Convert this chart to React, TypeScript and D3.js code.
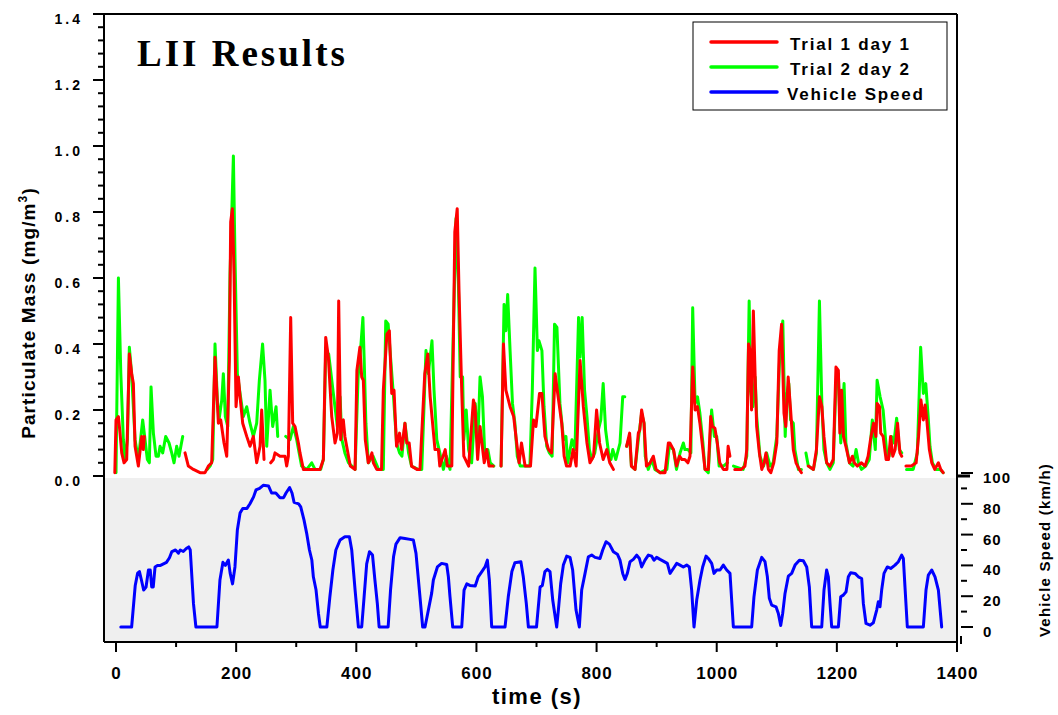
import React from 'react';
import * as d3 from 'd3';

type Pt = [number, number | null];

// Particulate mass ticks (mg/m3)
const pmMajorTicks = [0, 0.2, 0.4, 0.6, 0.8, 1.0, 1.2, 1.4];
const timeMajorTicks = [0, 200, 400, 600, 800, 1000, 1200, 1400];
const timeMinorTicks = [100, 300, 500, 700, 900, 1100, 1300];
const speedMajorTicks = [0, 20, 40, 60, 80, 100];
const speedMinorTicks = [10, 30, 50, 70, 90];

const legendLabels = ['Trial 1 day 1', 'Trial 2 day 2', 'Vehicle Speed'];
const seriesColors = ['#ff0000', '#00ff00', '#0000ff'];

// Trial 1 day 1 (red) : [time s, mass mg/m3]
const trial1: Pt[] = [
  [-2, 0.01], [0, 0.17], [4, 0.18], [6.7, 0.13], [9.5, 0.07], [13.4, 0.04], [17.8, 0.05], [22.2, 0.37], [26.1, 0.31],
  [28.9, 0.28], [31.7, 0.09], [37.2, 0.03], [42.8, 0.12], [45.5, 0.08], [47.2, 0.12], [48, null],
  [114.9, 0.07], [120.4, 0.03], [128.8, 0.02], [139.9, 0.01], [148.2, 0.01], [153.7, 0.03], [159.3, 0.04],
  [164.8, 0.36], [170.4, 0.16], [174.3, 0.17], [179.8, 0.10], [184.3, 0.06], [188.7, 0.35], [190.9, 0.77],
  [193.7, 0.81], [196.5, 0.61], [199.8, 0.21], [203.7, 0.30], [206.5, 0.24], [210.9, 0.16], [217.6, 0.12],
  [223.1, 0.09], [228.6, 0.12], [234.2, 0.04], [239.8, 0.09], [242.5, 0.20], [246.4, 0.05], [250, null],
  [257.5, 0.04], [262, 0.05], [264.7, 0.07], [273, 0.06], [281.4, 0.06], [284.1, 0.03], [286.9, 0.06],
  [290.8, 0.48], [294.1, 0.16], [298, 0.15], [303.6, 0.10], [306.3, 0.07], [311.9, 0.02], [323, 0.02],
  [339.6, 0.02], [345.2, 0.05], [349.1, 0.42], [353.5, 0.36], [359.1, 0.18], [364.6, 0.10], [368.5, 0.13],
  [370.7, 0.53], [374, 0.11], [376, 0.16], [378.4, 0.17], [381, 0.12], [390, 0.03], [398, 0.02],
  [401, 0.32], [406, 0.39], [409, 0.30], [411.7, 0.29], [415, 0.11], [420, 0.04], [426, 0.07], [428.4, 0.04],
  [434, 0.02], [442, 0.02], [445, 0.26], [451, 0.43], [455, 0.44], [459, 0.25], [462.8, 0.26], [467, 0.09],
  [472, 0.13], [475.5, 0.08], [481, 0.16], [484, 0.10], [488, 0.10], [492, 0.03], [501, 0.02], [506, 0.02],
  [514, 0.31], [519, 0.37], [523, 0.24], [531, 0.08], [536.6, 0.08], [539, 0.03], [548, 0.08], [551.6, 0.03],
  [559, 0.03], [564, 0.74], [568, 0.81], [571, 0.56], [575.5, 0.26], [579, 0.06], [587, 0.03], [595, 0.23],
  [597.6, 0.21], [602, 0.05], [606, 0.15], [610.4, 0.08], [613, 0.04], [617, 0.08], [621, 0.03], [628, 0.03], [632, null],
  [641, 0.03], [645, 0.40], [649, 0.26], [656, 0.21], [662, 0.18], [667, 0.10], [671, 0.04], [675, 0.10],
  [681, 0.03], [686, 0.03], [690, 0.03], [695, 0.17], [699, 0.15], [705, 0.25], [709, 0.25], [714, 0.12],
  [720, 0.08], [725, 0.07], [731, 0.31], [736, 0.24], [742, 0.16], [746, 0.06], [750, 0.03], [756, 0.03],
  [761, 0.08], [766, 0.03], [772.5, 0.35], [778, 0.21], [784, 0.10], [789, 0.04], [795, 0.06], [800, 0.20],
  [805, 0.10], [811, 0.05], [817, 0.08], [822, 0.04], [828, 0.02], [832, null],
  [850, 0.09], [855, 0.13], [858, 0.03], [864, 0.02], [869.5, 0.13], [872, 0.14], [875, 0.20], [879, 0.16],
  [883, 0.03], [889, 0.04], [894.5, 0.06], [899, 0.02], [906, 0.01], [914, 0.01], [919.5, 0.10], [922, 0.10],
  [928, 0.08], [933, 0.03], [938, 0.06], [942, 0.05], [947, 0.05], [952, 0.04], [955.5, 0.06], [960, 0.33],
  [964, 0.20], [968, 0.21], [972, 0.16], [977, 0.08], [980.5, 0.02], [986, 0.02], [990, 0.18], [993, 0.15],
  [997, 0.145], [1001, 0.10], [1005, 0.04], [1011, 0.02], [1017, 0.02], [1019, 0.09], [1022, 0.06], [1025, null],
  [1030, 0.02], [1041, 0.02], [1047, 0.03], [1050, 0.08], [1053, 0.40], [1055.5, 0.38], [1058, 0.20],
  [1061, 0.50], [1064, 0.30], [1066.5, 0.15], [1071, 0.07], [1075, 0.02], [1079, 0.04], [1082, 0.07],
  [1086, 0.02], [1090, 0.01], [1095, 0.04], [1100, 0.10], [1104, 0.38], [1108, 0.46], [1112, 0.19],
  [1115, 0.15], [1119, 0.30], [1123, 0.20], [1127.5, 0.08], [1132, 0.04], [1137.5, 0.02], [1141, 0.01], [1145, null],
  [1152.5, 0.03], [1161, 0.02], [1166, 0.08], [1171, 0.24], [1175, 0.21], [1178.5, 0.12], [1183, 0.04],
  [1188.5, 0.03], [1194, 0.05], [1198.5, 0.33], [1202.5, 0.32], [1205, 0.13], [1208, 0.26], [1211, 0.12],
  [1215, 0.09], [1221, 0.04], [1226, 0.06], [1229, 0.04], [1234, 0.03], [1241, 0.04], [1247, 0.03],
  [1252, 0.06], [1256, 0.11], [1261, 0.16], [1265, 0.12], [1267, 0.22], [1271, 0.21], [1273, 0.13],
  [1277, 0.12], [1282, 0.05], [1286, 0.05], [1289.5, 0.12], [1293, 0.06], [1297, 0.08], [1301, 0.16],
  [1305, 0.07], [1308, 0.06], [1311, null],
  [1315, 0.03], [1324, 0.03], [1332, 0.04], [1336, 0.12], [1340, 0.23], [1344, 0.17], [1347, 0.215],
  [1350, 0.165], [1354, 0.08], [1358, 0.04], [1363, 0.02], [1369, 0.04], [1373, 0.02], [1377, 0.01],
];

// Trial 2 day 2 (green) : [time s, mass mg/m3]
const trial2: Pt[] = [
  [0, 0.01], [4, 0.60], [8, 0.31], [12.2, 0.11], [15, 0.05], [19, 0.11], [22.2, 0.39], [26, 0.31], [31.7, 0.11],
  [37.2, 0.05], [44.4, 0.17], [48.3, 0.11], [52.2, 0.05], [55.5, 0.04], [58.3, 0.27], [62.2, 0.13], [66.6, 0.06],
  [70.5, 0.06], [73.3, 0.09], [77.7, 0.07], [82.7, 0.12], [88.3, 0.10], [92.7, 0.07], [96.6, 0.04], [101, 0.09],
  [104.9, 0.06], [111, 0.12], [113, null],
  [152, 0.02], [156.5, 0.03], [161, 0.05], [164.8, 0.40], [168.7, 0.23], [171.5, 0.17], [176, 0.23],
  [178.7, 0.31], [182, 0.18], [186, 0.15], [189.8, 0.61], [195.4, 0.97], [198.1, 0.66], [202, 0.31],
  [206.5, 0.25], [212, 0.18], [217.6, 0.21], [223, 0.16], [228.6, 0.12], [234.2, 0.16], [238.6, 0.29],
  [244, 0.40], [248, 0.29], [250.9, 0.09], [256.4, 0.26], [260.8, 0.15], [266.4, 0.21], [269.2, 0.12], [272, null],
  [282.5, 0.12], [289.7, 0.11], [295.2, 0.15], [300.8, 0.11], [309, 0.03], [317.4, 0.02], [325.8, 0.04],
  [331.3, 0.02], [340.7, 0.02], [345.2, 0.05], [349, 0.37], [354, 0.37], [361.8, 0.25], [368.5, 0.15],
  [373, 0.24], [376, 0.11], [381, 0.07], [387, 0.04], [398, 0.02], [403, 0.30], [407, 0.38], [411, 0.48],
  [413, 0.36], [416, 0.16], [420, 0.04], [428, 0.06], [437, 0.02], [445, 0.02], [449, 0.47], [453, 0.46],
  [457, 0.36], [462, 0.24], [467, 0.10], [472, 0.07], [476, 0.06], [481, 0.16], [487, 0.07], [492, 0.03],
  [503, 0.02], [509, 0.02], [516, 0.38], [520, 0.31], [526, 0.41], [529.4, 0.26], [534, 0.11], [539, 0.07],
  [545, 0.02], [550, 0.06], [556, 0.02], [566, 0.78], [570, 0.58], [573, 0.30], [577, 0.30], [579, 0.11],
  [583, 0.20], [587, 0.08], [592, 0.04], [598, 0.22], [602, 0.09], [606, 0.30], [610, 0.24], [614, 0.06],
  [619, 0.08], [623, 0.04], [629, 0.03], [632, null],
  [641, 0.03], [646, 0.52], [649, 0.44], [652, 0.55], [656, 0.38], [660, 0.22], [664, 0.16], [668, 0.06],
  [673, 0.03], [678, 0.03], [689, 0.03], [693, 0.26], [697.5, 0.63], [701.5, 0.38], [704, 0.41], [709, 0.38],
  [712.5, 0.21], [717, 0.09], [721.5, 0.07], [726, 0.06], [730, 0.46], [734, 0.45], [739, 0.22], [745, 0.11],
  [749, 0.12], [752, 0.04], [759, 0.11], [764, 0.08], [770, 0.48], [772.5, 0.36], [776, 0.48], [780, 0.26],
  [784, 0.18], [788, 0.08], [792, 0.05], [797, 0.07], [803, 0.14], [807, 0.17], [811, 0.28], [815, 0.14],
  [820, 0.07], [824, 0.05], [827, 0.08], [832, 0.05], [839, 0.10], [843.5, 0.24], [847, 0.24], [848, null],
  [850, 0.09], [855, 0.12], [858, 0.03], [864, 0.02], [869.5, 0.11], [875, 0.19], [879, 0.16], [881, 0.06],
  [886, 0.02], [892, 0.05], [897, 0.02], [906, 0.01], [917, 0.02], [921, 0.09], [928, 0.08], [933, 0.02],
  [939, 0.07], [944.5, 0.10], [947, 0.08], [952, 0.08], [957, 0.07], [960, 0.51], [964, 0.22], [968, 0.24],
  [972, 0.19], [977, 0.10], [980.5, 0.02], [986, 0.01], [991.5, 0.20], [996, 0.12], [1000, 0.12], [1004, 0.03],
  [1011, 0.03], [1018, 0.04], [1021, null],
  [1028, 0.03], [1044, 0.02], [1050, 0.06], [1054, 0.53], [1056.5, 0.26], [1060, 0.21], [1064, 0.30],
  [1066.5, 0.18], [1072, 0.06], [1078, 0.03], [1083, 0.07], [1089, 0.03], [1094, 0.04], [1100, 0.12],
  [1105, 0.37], [1110, 0.47], [1114, 0.12], [1116.5, 0.24], [1120, 0.28], [1123, 0.17], [1127.5, 0.16],
  [1130, 0.08], [1136, 0.02], [1141, 0.02], [1144, null],
  [1148.5, 0.07], [1152.5, 0.03], [1161, 0.02], [1166, 0.07], [1171, 0.53], [1175, 0.22], [1178.5, 0.08],
  [1183, 0.04], [1188.5, 0.02], [1194, 0.04], [1198.5, 0.28], [1202.5, 0.31], [1206.5, 0.10], [1212, 0.28],
  [1215, 0.10], [1221, 0.04], [1227, 0.03], [1232, 0.08], [1236, 0.04], [1241, 0.02], [1248, 0.03],
  [1254, 0.05], [1259, 0.17], [1264, 0.08], [1267, 0.29], [1272, 0.24], [1277, 0.20], [1283, 0.07],
  [1287, 0.06], [1291, 0.12], [1295, 0.10], [1299.5, 0.175], [1304, 0.08], [1308, 0.07], [1311, null],
  [1316, 0.02], [1327, 0.02], [1334, 0.07], [1339.5, 0.39], [1344, 0.25], [1348, 0.28], [1352, 0.18],
  [1355, 0.09], [1359, 0.04], [1365, 0.02], [1372, 0.02], [1377, 0.01],
];

// Vehicle speed (blue) : [time s, speed km/h]
const vehicleSpeed: Pt[] = [
  [8, 0], [26, 0], [32, 27], [36, 35], [39, 36], [42, 31], [46, 24], [50, 26], [54, 37], [57, 37], [59.4, 26],
  [62, 26], [65, 39], [69, 40], [74, 40], [79, 41], [84, 42], [89, 45], [93, 49], [99, 50], [104, 48], [107, 50],
  [112, 49], [117, 51], [121, 52], [123.6, 50], [129, 15], [133, 0], [168, 0], [173, 30.5], [178, 42], [182, 40],
  [187, 43.5], [190, 35], [194, 28], [198, 39], [202, 63], [206.5, 74], [211, 77], [218, 77], [223, 80],
  [229, 84.5], [233, 89], [239, 90], [245, 92], [254, 91.5], [259, 87], [266, 87], [273, 84], [279, 84],
  [283, 87], [289, 90.6], [293, 87], [296.4, 81], [304, 80], [307.5, 78], [313, 69.4], [317.4, 60.8], [322, 50],
  [326, 43.5], [328.5, 32.6], [333, 24], [337, 8.8], [340, 0], [351, 0], [356, 19.6], [361, 37], [366, 50],
  [373, 56.5], [381, 58.6], [388.5, 58.6], [392.4, 50], [398, 24], [403.5, 0], [409, 0], [413, 19.6],
  [417.3, 41], [422, 48.9], [427, 46.7], [431, 30.5], [435, 15.3], [438, 0], [453, 0], [457, 24], [462, 45.6],
  [466, 53.8], [473, 58], [481, 57.5], [489.5, 56.9], [495, 56.5], [499.4, 47.8], [505, 24], [510.5, 0],
  [514.4, 0], [520, 11], [525.5, 22], [528.3, 30.5], [535, 39], [542, 41.3], [550.5, 40.6], [553.3, 32.6],
  [556, 19.6], [560.5, 0], [575.5, 0], [579.4, 24], [584, 28], [589, 27], [598, 26.6], [603, 32.6], [609, 36],
  [614.3, 39], [618.2, 43.4], [621.5, 30.5], [625.4, 0], [647.6, 0], [653, 19.6], [659, 36], [664, 41.7],
  [674, 42.4], [678, 32.6], [683, 15.3], [686.5, 0], [700, 0], [706, 26], [709.7, 27], [714, 36], [718, 37.4],
  [722.5, 36], [727, 17.5], [733.6, 0], [736.4, 11], [740.3, 28.3], [744.7, 40.2], [750.2, 46], [755.8, 45.2],
  [760.2, 37], [765.8, 11], [771.3, 0], [775.2, 24], [780.8, 34.8], [786.3, 45.6], [791.9, 46.7], [797.4, 45.2],
  [805.7, 44.5], [810.2, 50], [815.7, 55.4], [821.3, 53.8], [828, 48.9], [834.6, 47.3], [839, 43.4],
  [843.5, 34.8], [847.3, 30.9], [851.2, 34.8], [855.7, 42.4], [861.2, 43.9], [866.8, 46.7], [871.2, 44.5],
  [875, 39], [880.6, 43.4], [886.2, 46.7], [891.7, 46], [895.6, 43.4], [900, 45.2], [905.6, 43.9], [911, 42.8],
  [917.8, 41.3], [922.3, 34.8], [927.8, 38], [933.4, 41.3], [938.9, 40.2], [944.4, 39], [950, 40.2],
  [954.4, 39], [958.3, 24], [962.2, 0], [966.7, 17.5], [972.2, 30.5], [976.6, 39], [982.2, 46], [986, 44.5],
  [991.6, 41.3], [995.5, 34.8], [999.9, 37], [1005.5, 37], [1011, 40.2], [1016.6, 37], [1022.1, 34.8],
  [1027.7, 0], [1058.2, 0], [1062, 19.6], [1067.7, 37], [1074.9, 45.2], [1080.4, 42.4], [1084.3, 32.6],
  [1087.6, 18.6], [1091.5, 14.2], [1098.7, 13.1], [1102.6, 8.8], [1106.5, 1], [1109.8, 8.8], [1113.7, 21.8],
  [1119.2, 33], [1124.8, 34.8], [1130.4, 40.2], [1137.6, 43.4], [1144.2, 43], [1149.8, 39], [1154.2, 26],
  [1158.1, 0], [1174.8, 0], [1178.6, 24], [1183, 37], [1185.8, 32.6], [1188.6, 15.3], [1191.4, 0], [1202.5, 0],
  [1206.4, 19.6], [1210.8, 20.7], [1215.3, 22.9], [1219.1, 32.6], [1223, 35.2], [1230.2, 34.8], [1235.8, 32.6],
  [1241.3, 31.5], [1244.1, 15.3], [1248.5, 2.3], [1255.2, 1.2], [1260.7, 2.7], [1266.3, 11], [1269, 16.4],
  [1271.8, 13.1], [1274.6, 24], [1278.5, 34.8], [1284, 39], [1289.6, 38], [1296.8, 40.2], [1302.4, 42.4],
  [1307.9, 46.7], [1310.7, 44.5], [1313.4, 26], [1317.3, 0], [1344, 0], [1348.4, 24], [1352.3, 33.7],
  [1357.9, 37], [1363.4, 32.6], [1369, 24], [1374.5, 0],
];

const FONT = '"Liberation Sans", Arial, sans-serif';

export default function App() {
  const left = 104, right = 957, top = 14, bottom = 642;
  const x = d3.scaleLinear().domain([-20, 1400]).range([left, right]);
  const yPM = d3.scaleLinear().domain([0, 1.4]).range([476, top]);
  const ySp = d3.scaleLinear().domain([0, 100]).range([627, 473]);

  const pmLine = d3.line<Pt>()
    .defined((d) => d[1] !== null)
    .x((d) => x(d[0]))
    .y((d) => yPM(d[1] as number));
  const spLine = d3.line<Pt>()
    .defined((d) => d[1] !== null)
    .x((d) => x(d[0]))
    .y((d) => ySp(d[1] as number));

  const pmMinor = d3.range(0, 71).map((i) => i * 0.02).filter((v, i) => i % 2 === 0 && i % 10 !== 0);

  return (
    <div style={{ position: 'absolute', left: 0, top: 0 }}>
      <svg width={1058} height={715} style={{ display: 'block', background: '#fff' }}>
        <defs>
          <clipPath id="plotClip">
            <rect x={left + 1} y={top + 1} width={right - left - 2} height={bottom - top - 2} />
          </clipPath>
        </defs>
        {/* lower grey panel */}
        <rect x={left} y={478} width={right - left} height={bottom - 478} fill="#efefef" />

        {/* data lines */}
        <g clipPath="url(#plotClip)" fill="none" strokeLinejoin="round" strokeLinecap="round">
          <path d={pmLine(trial2) || ''} stroke={seriesColors[1]} strokeWidth={3} />
          <path d={pmLine(trial1) || ''} stroke={seriesColors[0]} strokeWidth={3} />
          <path d={spLine(vehicleSpeed) || ''} stroke={seriesColors[2]} strokeWidth={3} />
        </g>

        {/* frame */}
        <g stroke="#000" strokeWidth={2} fill="none">
          <line x1={left} y1={top} x2={right} y2={top} />
          <line x1={right} y1={top} x2={right} y2={bottom} />
          <line x1={left} y1={bottom} x2={right} y2={bottom} />
          <line x1={left} y1={top} x2={left} y2={bottom} />
        </g>

        {/* left PM axis */}
        <g stroke="#000" strokeWidth={2}>
          {pmMajorTicks.map((t) => (
            <line key={'pm' + t} x1={left - 11} x2={left} y1={yPM(t)} y2={yPM(t)} />
          ))}
          {pmMinor.map((t) => (
            <line key={'pmm' + t} x1={left - 6} x2={left} y1={yPM(t)} y2={yPM(t)} />
          ))}
        </g>
        <g fontFamily={FONT} fontWeight="bold" fontSize={14} letterSpacing={3} textAnchor="end">
          {pmMajorTicks.map((t) => (
            <text key={'pml' + t} x={83} y={yPM(t) + 10}>{t.toFixed(1)}</text>
          ))}
        </g>
        <text
          transform="translate(35,313) rotate(-90)"
          textAnchor="middle"
          fontFamily={FONT}
          fontWeight="bold"
          fontSize={19}
          letterSpacing={1.1}
        >
          Particulate Mass (mg/m<tspan dy={-8} fontSize={12}>3</tspan><tspan dy={8}>)</tspan>
        </text>

        {/* bottom time axis */}
        <g stroke="#000" strokeWidth={2}>
          {timeMajorTicks.map((t) => (
            <line key={'tx' + t} x1={x(t)} x2={x(t)} y1={bottom} y2={bottom + 10} />
          ))}
          {timeMinorTicks.map((t) => (
            <line key={'txm' + t} x1={x(t)} x2={x(t)} y1={bottom} y2={bottom + 5} />
          ))}
        </g>
        <g fontFamily={FONT} fontWeight="bold" fontSize={17} letterSpacing={1} textAnchor="middle">
          {timeMajorTicks.map((t) => (
            <text key={'txl' + t} x={x(t) + 0.5} y={679}>{t}</text>
          ))}
        </g>
        <text x={537} y={704} textAnchor="middle" fontFamily={FONT} fontWeight="bold" fontSize={22} letterSpacing={1.5}>
          time (s)
        </text>

        {/* right speed axis */}
        <line x1={right} x2={970} y1={476} y2={476} stroke="#000" strokeWidth={3} />
        <line x1={961} x2={961} y1={636} y2={644} stroke="#000" strokeWidth={2} />
        <g stroke="#000" strokeWidth={2}>
          {speedMajorTicks.map((t) => (
            <line key={'sp' + t} x1={961} x2={973} y1={ySp(t)} y2={ySp(t)} />
          ))}
          {speedMinorTicks.map((t) => (
            <line key={'spm' + t} x1={961} x2={967} y1={ySp(t)} y2={ySp(t)} />
          ))}
        </g>
        <g fontFamily={FONT} fontWeight="bold" fontSize={15} letterSpacing={1}>
          {speedMajorTicks.map((t) => (
            <text key={'spl' + t} x={983} y={ySp(t) + 10}>{t}</text>
          ))}
        </g>
        <text
          transform="translate(1050,550) rotate(-90)"
          textAnchor="middle"
          fontFamily={FONT}
          fontWeight="bold"
          fontSize={15}
          letterSpacing={1.2}
        >
          Vehicle Speed (km/h)
        </text>

        {/* title */}
        <text x={137} y={66} fontFamily='"Liberation Serif", "Times New Roman", serif' fontWeight="bold" fontSize={37} letterSpacing={3}>
          LII Results
        </text>

        {/* legend */}
        <rect x={693} y={22} width={254} height={88} fill="#fff" stroke="#000" strokeWidth={1} />
        {legendLabels.map((lab, i) => (
          <g key={lab}>
            <line x1={711} x2={777} y1={42 + i * 25} y2={42 + i * 25} stroke={seriesColors[i]} strokeWidth={3.5} strokeLinecap="round" />
            <text x={i === 2 ? 787 : 790} y={50 + i * 25} fontFamily={FONT} fontWeight="bold" fontSize={17} letterSpacing={1.8}>
              {lab}
            </text>
          </g>
        ))}
      </svg>
    </div>
  );
}
